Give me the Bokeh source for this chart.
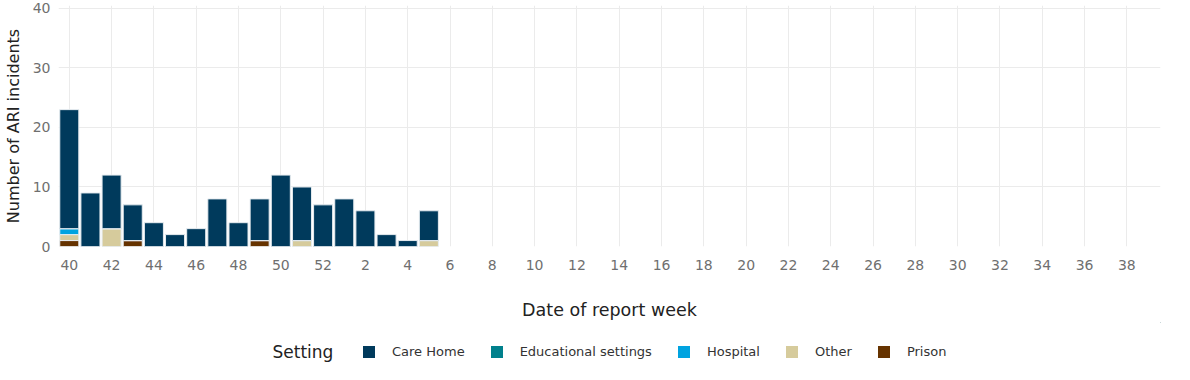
from bokeh.plotting import figure
from bokeh.layouts import column
from bokeh.models import (Range1d, FixedTicker, Legend, LegendItem, ColumnDataSource, Label)
from bokeh.embed import file_html
from bokeh.resources import INLINE

# ---- data ----
week_labels = [40, 41, 42, 43, 44, 45, 46, 47, 48, 49, 50, 51, 52] + list(range(1, 40))
data_weeks = [40, 41, 42, 43, 44, 45, 46, 47, 48, 49, 50, 51, 52, 1, 2, 3, 4, 5]
care_home = [20, 9, 9, 6, 4, 2, 3, 8, 4, 7, 12, 9, 7, 8, 6, 2, 1, 5]
educational = [0, 0, 0, 0, 0, 0, 0, 0, 0, 0, 0, 0, 0, 0, 0, 0, 0, 0]
hospital = [1, 0, 0, 0, 0, 0, 0, 0, 0, 0, 0, 0, 0, 0, 0, 0, 0, 0]
other = [1, 0, 3, 0, 0, 0, 0, 0, 0, 0, 0, 1, 0, 0, 0, 0, 0, 1]
prison = [1, 0, 0, 1, 0, 0, 0, 0, 0, 1, 0, 0, 0, 0, 0, 0, 0, 0]
settings = ["Care Home", "Educational settings", "Hospital", "Other", "Prison"]
colors = {"Care Home": "#003a5c", "Educational settings": "#00808c",
          "Hospital": "#00a3e0", "Other": "#d6cb9c", "Prison": "#663300"}

FONT = "DejaVu Sans"

x_idx = [week_labels.index(w) for w in data_weeks]
source = ColumnDataSource(dict(x=x_idx, **{"Care Home": care_home,
                                          "Educational settings": educational,
                                          "Hospital": hospital, "Other": other,
                                          "Prison": prison}))

p = figure(width=1174, height=322, output_backend="svg", toolbar_location=None,
           x_range=Range1d(-0.51, 51.59), y_range=Range1d(0, 40.5),
           min_border_left=45, min_border_right=14, min_border_top=5,
           min_border_bottom=75)
p.outline_line_color = None

stack_order = ["Prison", "Other", "Hospital", "Educational settings", "Care Home"]
renderers = p.vbar_stack(stack_order, x="x", width=0.9, source=source,
                         color=[colors[s] for s in stack_order],
                         line_color="#e6ecf0", line_width=1)

# axes
even_ticks = list(range(0, len(week_labels), 2))
p.xaxis.ticker = FixedTicker(ticks=even_ticks)
p.xaxis.major_label_overrides = {i: str(week_labels[i]) for i in even_ticks}
p.yaxis.ticker = FixedTicker(ticks=[0, 10, 20, 30, 40])
for ax in (p.xaxis, p.yaxis):
    ax.axis_line_color = None
    ax.major_tick_line_color = None
    ax.minor_tick_line_color = None
    ax.major_label_text_font = FONT
    ax.major_label_text_font_size = "14px"
    ax.major_label_text_color = "#6f6f6f"
    ax.axis_label_text_font = FONT
    ax.axis_label_text_font_style = "normal"
    ax.axis_label_text_color = "#222222"
p.xaxis.axis_label_text_font_size = "17.5px"
p.yaxis.axis_label_text_font_size = "16px"
p.xaxis.major_label_standoff = 7
p.yaxis.major_label_standoff = 2
p.xaxis.axis_label = "Date of report week"
p.yaxis.axis_label = "Number of ARI incidents"
p.xaxis.axis_label_standoff = 27
p.yaxis.axis_label_standoff = 7

p.xgrid.ticker = FixedTicker(ticks=even_ticks)
p.grid.grid_line_color = "#ebebeb"
p.grid.grid_line_width = 1

# ---- legend strip ----
lg = figure(width=1174, height=42, output_backend="svg", toolbar_location=None,
            x_range=Range1d(0, 1), y_range=Range1d(0, 1),
            min_border=0, x_axis_type=None, y_axis_type=None)
lg.outline_line_color = None
lg.grid.visible = False
items = []
for s in settings:
    # proxy renderer placed fully outside the visible range; only its swatch is shown
    r = lg.vbar(x=[10], bottom=[5], top=[6], width=0.5,
                fill_color=colors[s], line_color=None)
    items.append(LegendItem(label=s, renderers=[r]))

lg.add_layout(Label(x=214, y=13, x_units="screen", y_units="screen", text="Setting",
                    text_font=FONT, text_font_size="17px", text_color="#222222",
                    text_baseline="middle", text_align="left"))

legend = Legend(items=items, orientation="horizontal", location=(303, 5.5), margin=0,
                label_text_font=FONT, label_text_font_size="13px",
                label_text_color="#333333",
                glyph_width=15, glyph_height=15, label_height=15,
                label_standoff=16, spacing=24, padding=0,
                border_line_color=None, background_fill_alpha=0)
lg.add_layout(legend)

layout = column(p, lg, spacing=0)
open("out.html", "w").write(file_html(layout, INLINE))
